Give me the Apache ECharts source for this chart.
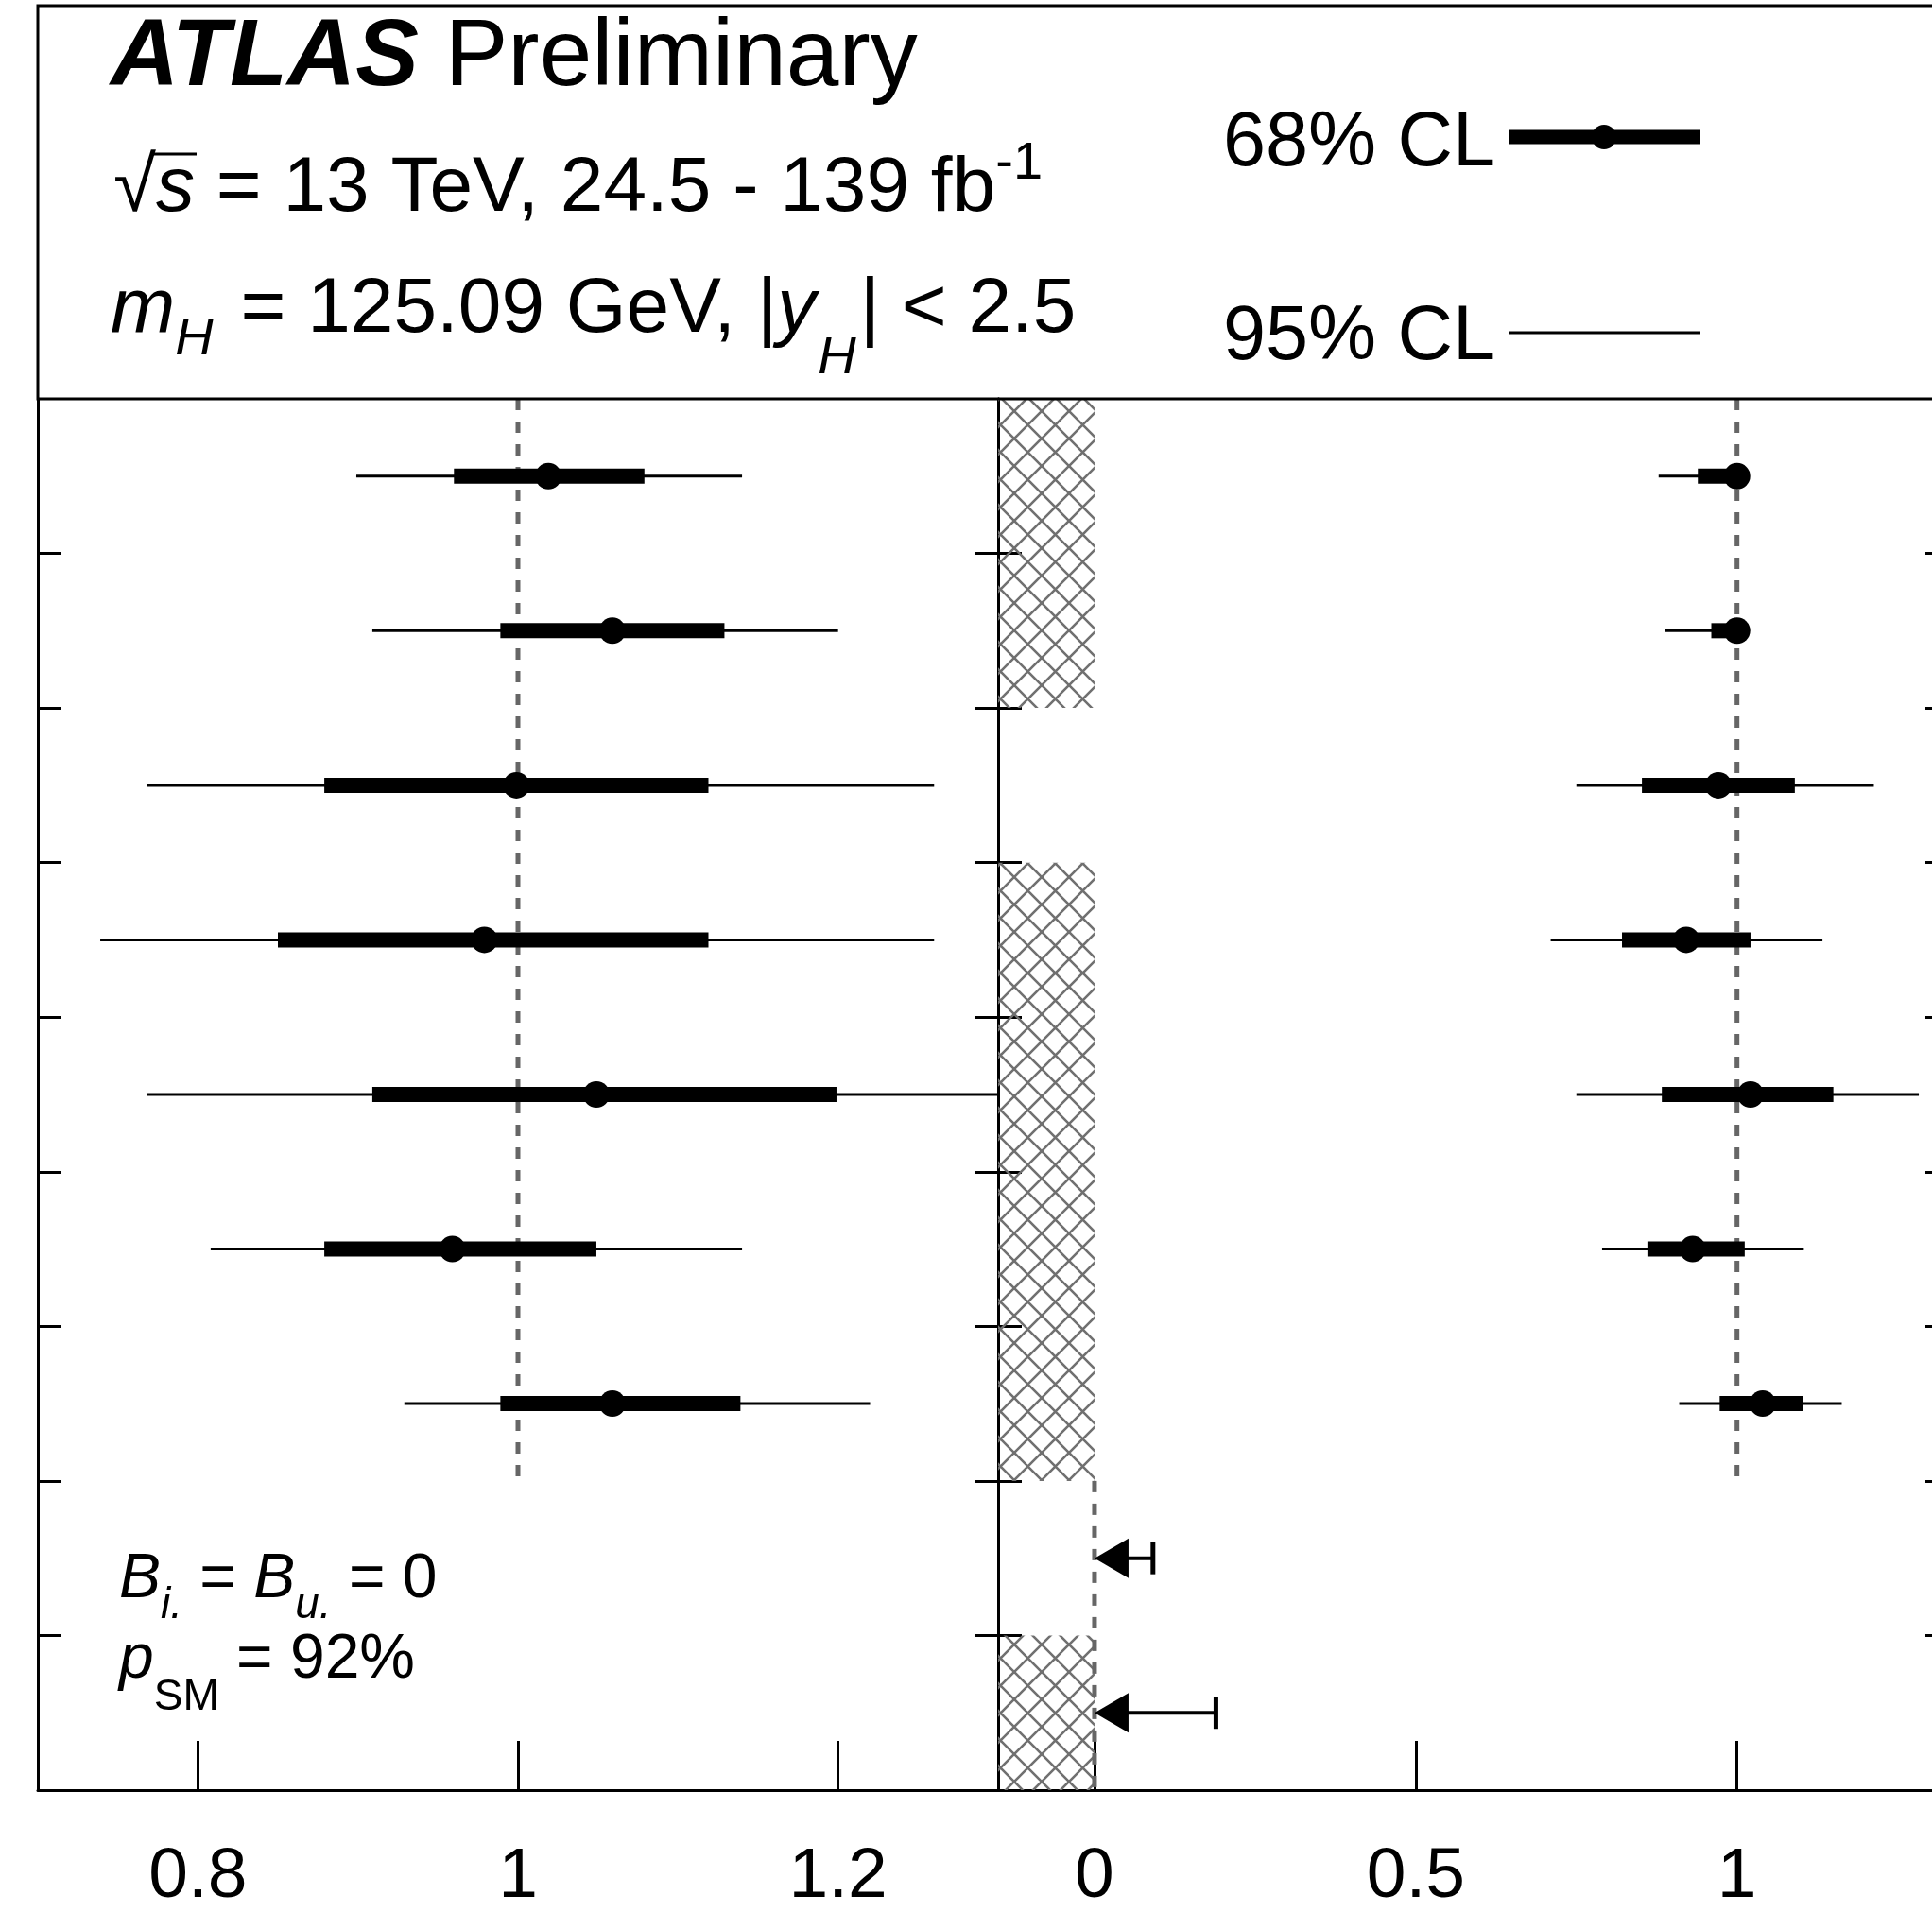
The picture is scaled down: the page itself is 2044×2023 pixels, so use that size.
<!DOCTYPE html>
<html><head><meta charset="utf-8">
<script src="https://cdn.jsdelivr.net/npm/echarts@6/dist/echarts.min.js"></script>
<style>html,body{margin:0;padding:0;background:#fff;overflow:hidden}#c{width:2090px;height:2023px}</style>
</head><body><div id="c"></div>
<script>
// ---------------- data ----------------
// rows counted from the top (0 = first row)
const leftRows     = [0, 1, 2, 3, 4, 5, 6];
const leftCentral  = [1.019, 1.059, 0.999, 0.979, 1.049, 0.959, 1.059];
const leftLo68     = [0.960, 0.989, 0.879, 0.850, 0.909, 0.879, 0.989];
const leftHi68     = [1.079, 1.129, 1.119, 1.119, 1.199, 1.049, 1.139];
const leftLo95     = [0.899, 0.909, 0.768, 0.739, 0.768, 0.808, 0.929];
const leftHi95     = [1.140, 1.200, 1.260, 1.260, 1.320, 1.140, 1.220];

const rightRows    = [0, 1, 2, 3, 4, 5, 6];
const rightCentral = [1.000, 1.000, 0.971, 0.921, 1.021, 0.931, 1.040];
const rightLo68    = [0.939, 0.960, 0.852, 0.821, 0.883, 0.862, 0.973];
const rightHi68    = [1.000, 1.000, 1.090, 1.021, 1.150, 1.012, 1.102];
const rightLo95    = [0.878, 0.888, 0.750, 0.710, 0.750, 0.790, 0.910];
const rightHi95    = [1.000, 1.000, 1.213, 1.133, 1.283, 1.104, 1.163];

const limitRows    = [7, 8];
const limitUpper   = [0.091, 0.189];

const hatchFrom    = [0, 3, 8];   // row ranges with hatched (excluded) band
const hatchTo      = [2, 7, 9];
const hatchXFrom   = -0.15;
const hatchXTo     = 0;

const leftTicks    = [0.8, 1, 1.2];
const rightTicks   = [0, 0.5, 1];
const rowTicks     = [1, 2, 3, 4, 5, 6, 7, 8];
const nRows        = 9;

const smLeft       = [[1, 0], [1, 7]];
const smRight1     = [[1, 0], [1, 7]];
const smRight0     = [[0, 7], [0, 9]];

// ---------------- helpers ----------------
const FONT = '"Liberation Sans", Arial, Helvetica, sans-serif';
const mctx = document.createElement('canvas').getContext('2d');

function makeRun(parts, x0, baseline, out) {
  let x = x0; const pos = [];
  for (const p of parts) {
    const font = (p.it ? 'italic ' : '') + (p.bold ? 'bold ' : '') + p.size + 'px ' + FONT;
    mctx.font = font;
    const w = mctx.measureText(p.t).width;
    const b = baseline + (p.dy || 0) + 5;
    out.push({type: 'text', x: x, y: b - 0.3465 * p.size, silent: true, z: 10,
      style: {text: p.t, font: font, fill: '#000', align: 'left', verticalAlign: 'middle',
              textAlign: 'left', textVerticalAlign: 'middle'}});
    pos.push([x, x + w]);
    x += w + (p.gap || 0);
  }
  return pos;
}

function hatchPattern() {
  const p = 29, c = document.createElement('canvas'); c.width = p; c.height = p;
  const g = c.getContext('2d'); g.strokeStyle = '#707070'; g.lineWidth = 2.6;
  g.beginPath(); g.moveTo(-3, -3); g.lineTo(p + 3, p + 3); g.moveTo(p + 3, -3); g.lineTo(-3, p + 3); g.stroke();
  return c;
}
const hatchImg = hatchPattern();

function barRender(width) {
  return function (params, api) {
    const y = api.value(0), lo = api.value(1), hi = api.value(2);
    const p1 = api.coord([lo, y]), p2 = api.coord([hi, y]);
    const cs = params.coordSys;
    const x1 = Math.max(p1[0], cs.x), x2 = Math.min(p2[0], cs.x + cs.width);
    return {type: 'line', shape: {x1: x1, y1: p1[1], x2: x2, y2: p1[1]},
            style: {stroke: '#000', lineWidth: width, lineCap: 'butt'}};
  };
}

// ---------------- series data ----------------
const mk = (rows, a, b) => rows.map((r, i) => [r + 0.5, a[i], b[i]]);
const leftThin  = mk(leftRows, leftLo95, leftHi95);
const leftThick = mk(leftRows, leftLo68, leftHi68);
const leftDots  = leftRows.map((r, i) => [leftCentral[i], r + 0.5]);
const rightThin  = mk(rightRows, rightLo95, rightHi95);
const rightThick = mk(rightRows, rightLo68, rightHi68);
const rightDots  = rightRows.map((r, i) => [rightCentral[i], r + 0.5]);
const limits = limitRows.map((r, i) => [r + 0.5, limitUpper[i]]);
const hatches = hatchFrom.map((f, i) => [f, hatchTo[i], hatchXFrom, hatchXTo]);

// ---------------- graphics (header, legend, annotations) ----------------
const G = [];
G.push({type: 'rect', shape: {x: 40, y: 6, width: 2200, height: 416}, z: 9,
        style: {fill: 'none', stroke: '#000', lineWidth: 3}, silent: true});
makeRun([{t: 'ATLAS', it: true, bold: true, size: 100}, {t: ' Preliminary', size: 100}], 117, 92, G);
const l2 = makeRun([{t: '√', size: 82}, {t: 's', it: true, size: 82}, {t: ' = 13 TeV, 24.5 - 139 fb', size: 82},
                    {t: '-1', size: 56, dy: -36}], 120, 224, G);
G.push({type: 'line', shape: {x1: l2[0][1] - 6, y1: 163, x2: l2[1][1] + 2, y2: 163}, z: 10,
        style: {stroke: '#000', lineWidth: 3}, silent: true});
makeRun([{t: 'm', it: true, size: 82}, {t: 'H', it: true, size: 56, dy: 22, gap: 6},
         {t: ' = 125.09 GeV, |', size: 82}, {t: 'y', it: true, size: 82, gap: 2},
         {t: 'H', it: true, size: 56, dy: 42, gap: 4}, {t: '| < 2.5', size: 82}], 117, 352, G);
makeRun([{t: '68% CL', size: 81}], 1294, 176, G);
makeRun([{t: '95% CL', size: 81}], 1294, 381, G);
G.push({type: 'line', shape: {x1: 1597, y1: 145, x2: 1799, y2: 145}, z: 10, style: {stroke: '#000', lineWidth: 15}, silent: true});
G.push({type: 'circle', shape: {cx: 1697, cy: 145, r: 13}, z: 10, style: {fill: '#000'}, silent: true});
G.push({type: 'line', shape: {x1: 1597, y1: 352, x2: 1799, y2: 352}, z: 10, style: {stroke: '#000', lineWidth: 3}, silent: true});
makeRun([{t: 'B', it: true, size: 66}, {t: 'i.', it: true, size: 46, dy: 20}, {t: ' = ', size: 66},
         {t: 'B', it: true, size: 66}, {t: 'u.', it: true, size: 46, dy: 20}, {t: ' = 0', size: 66}], 126, 1690, G);
makeRun([{t: 'p', it: true, size: 66}, {t: 'SM', size: 46, dy: 32}, {t: ' = 92%', size: 66}], 126, 1775, G);

// ---------------- axes ----------------
const axLine = {show: true, onZero: false, lineStyle: {color: '#000', width: 3}};
function xAx(gi, min, max, ticks) {
  return {type: 'value', gridIndex: gi, min: min, max: max, position: 'bottom',
    axisLine: axLine, splitLine: {show: false},
    axisTick: {show: true, inside: true, length: 52, customValues: ticks, lineStyle: {color: '#000', width: 3}},
    axisLabel: {show: true, customValues: ticks, fontSize: 75, fontFamily: FONT, color: '#000', margin: 55}};
}
function yAx(gi, pos) {
  return {type: 'value', gridIndex: gi, min: 0, max: nRows, interval: 1, inverse: true, position: pos,
    axisLine: axLine, splitLine: {show: false}, axisLabel: {show: false},
    axisTick: {show: true, inside: true, length: 25, customValues: rowTicks, lineStyle: {color: '#000', width: 3}}};
}

const dashed = {color: '#666', width: 5, type: [12, 12]};
const dotStyle = {color: '#000', opacity: 1};

const option = {
  animation: false,
  backgroundColor: '#fff',
  grid: [
    {left: 40, top: 422, width: 1016, height: 1472, outerBoundsMode: 'none', containLabel: false},
    {left: 1056, top: 422, width: 1006, height: 1472, outerBoundsMode: 'none', containLabel: false}
  ],
  xAxis: [xAx(0, 0.7, 1.3, leftTicks), xAx(1, -0.15, 1.33, rightTicks)],
  yAxis: [yAx(0, 'left'), yAx(0, 'right'), yAx(1, 'left'), yAx(1, 'right')],
  graphic: {elements: G},
  series: [
    {type: 'custom', xAxisIndex: 1, yAxisIndex: 2, data: hatches, z: 1,
     encode: {x: [2, 3], y: [0, 1]},
     renderItem: function (params, api) {
       const a = api.coord([api.value(2), api.value(0)]), b = api.coord([api.value(3), api.value(1)]);
       return {type: 'rect', shape: {x: a[0], y: a[1], width: b[0] - a[0], height: b[1] - a[1]},
               style: {fill: {image: hatchImg, repeat: 'repeat'}, stroke: null}};
     }},
    {type: 'line', xAxisIndex: 0, yAxisIndex: 0, data: smLeft, symbol: 'none', lineStyle: dashed, z: 2},
    {type: 'line', xAxisIndex: 1, yAxisIndex: 2, data: smRight1, symbol: 'none', lineStyle: dashed, z: 2},
    {type: 'line', xAxisIndex: 1, yAxisIndex: 2, data: smRight0, symbol: 'none', lineStyle: dashed, z: 2},
    {type: 'custom', xAxisIndex: 0, yAxisIndex: 0, data: leftThin, encode: {x: [1, 2], y: 0}, renderItem: barRender(3), z: 3},
    {type: 'custom', xAxisIndex: 0, yAxisIndex: 0, data: leftThick, encode: {x: [1, 2], y: 0}, renderItem: barRender(16), z: 4},
    {type: 'scatter', xAxisIndex: 0, yAxisIndex: 0, data: leftDots, symbol: 'circle', symbolSize: 28, itemStyle: dotStyle, z: 5},
    {type: 'custom', xAxisIndex: 1, yAxisIndex: 2, data: rightThin, encode: {x: [1, 2], y: 0}, renderItem: barRender(3), z: 3},
    {type: 'custom', xAxisIndex: 1, yAxisIndex: 2, data: rightThick, encode: {x: [1, 2], y: 0}, renderItem: barRender(16), z: 4},
    {type: 'scatter', xAxisIndex: 1, yAxisIndex: 2, data: rightDots, symbol: 'circle', symbolSize: 28, itemStyle: dotStyle, z: 5},
    {type: 'custom', xAxisIndex: 1, yAxisIndex: 2, data: limits, encode: {x: 1, y: 0}, z: 6,
     renderItem: function (params, api) {
       const y = api.value(0), lim = api.value(1);
       const t = api.coord([0, y]), e = api.coord([lim, y]);
       return {type: 'group', children: [
         {type: 'polygon', shape: {points: [[t[0], t[1]], [t[0] + 36, t[1] - 21], [t[0] + 36, t[1] + 21]]}, style: {fill: '#000'}},
         {type: 'line', shape: {x1: t[0] + 30, y1: t[1], x2: e[0], y2: e[1]}, style: {stroke: '#000', lineWidth: 4}},
         {type: 'line', shape: {x1: e[0], y1: e[1] - 17, x2: e[0], y2: e[1] + 17}, style: {stroke: '#000', lineWidth: 5}}
       ]};
     }}
  ]
};
const chart = echarts.init(document.getElementById('c'), null, {renderer: 'canvas', width: 2090, height: 2023});
chart.setOption(option);
</script></body></html>
